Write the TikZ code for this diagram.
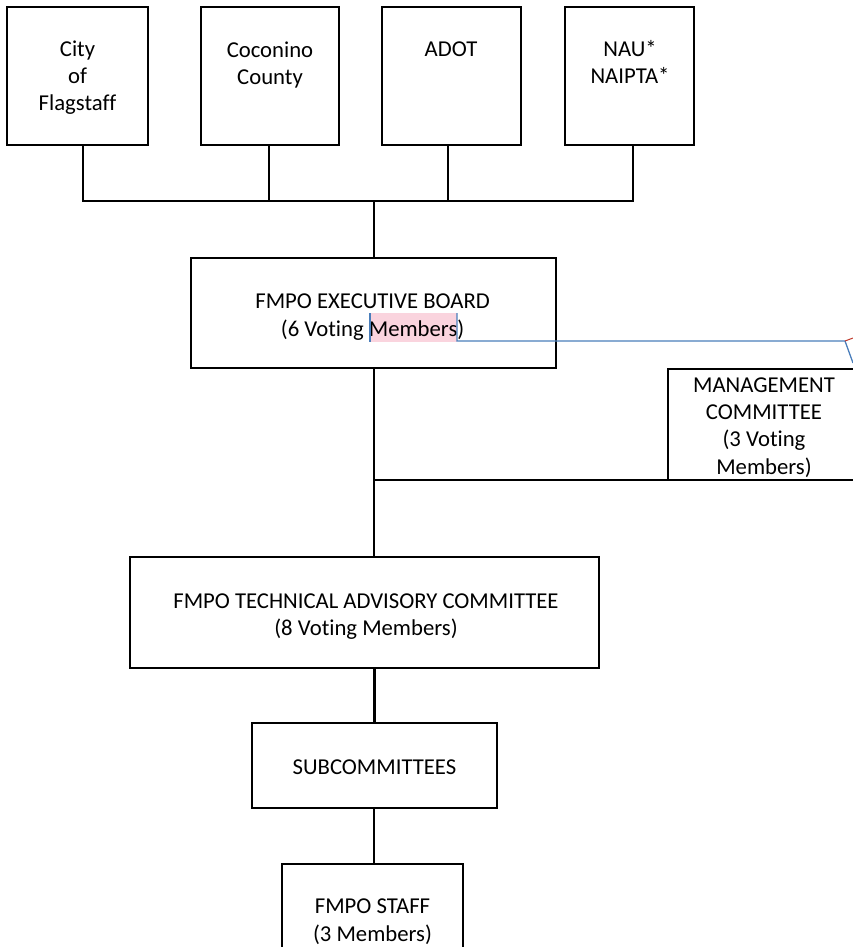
\documentclass[tikz,border=0pt]{standalone}
\usepackage{fontspec}
\setmainfont{Carlito}[Ligatures=NoCommon]
\definecolor{hlpink}{HTML}{FAD4DE}
\definecolor{annblue}{HTML}{4A7EBB}
\definecolor{annred}{HTML}{C0392B}
\begin{document}
\begin{tikzpicture}[x=1pt,y=-1pt,
  box/.style={draw=black, line width=2.9pt, rectangle, inner sep=0pt},
  txt/.style={font=\fontsize{22.7}{27.3}\selectfont, align=center, inner sep=0pt, anchor=base},
  conn/.style={draw=black, line width=2.9pt},
  annot/.style={draw=annblue, line width=1.3pt}]
\useasboundingbox (0,0) rectangle (853,947);
\fill[white] (0,0) rectangle (853,947);
\clip (0,0) rectangle (853,947);

% top boxes
\node[box, minimum width=141, minimum height=138] (city) at (77.5,76) {};
\node[box, minimum width=138, minimum height=138] (coco) at (270,76) {};
\node[box, minimum width=139, minimum height=138] (adot) at (451.5,76) {};
\node[box, minimum width=129, minimum height=138] (nau) at (629.5,76) {};
% anchor=base of a multi-line node is the baseline of its last line
\node[txt] (citytxt) at (77.5,111) {City\\of\\Flagstaff};
\node[txt] (cocotxt) at (270,84.5) {Coconino\\County};
\node[txt] (adottxt) at (451,57) {ADOT};
\node[txt] (nautxt) at (630,84) {NAU*\\NAIPTA*};

% executive board
\node[box, minimum width=365, minimum height=110] (exec) at (373.5,313) {};
\fill[hlpink] (370,313) rectangle (457,342);
\node[txt] (exectxt) at (372.6,336) {FMPO EXECUTIVE BOARD\\(6 Voting Members)};

% management committee
\node[box, minimum width=202, minimum height=111] (mgmt) at (769,424.5) {};
\node[txt] (mgmttxt) at (764,474) {MANAGEMENT\\COMMITTEE\\(3 Voting\\Members)};

% TAC
\node[box, minimum width=469, minimum height=111] (tac) at (364.5,612.5) {};
\node[txt] (tactxt) at (366,635.5) {FMPO TECHNICAL ADVISORY COMMITTEE\\(8 Voting Members)};

% subcommittees
\node[box, minimum width=245, minimum height=85] (sub) at (374.5,765.5) {};
\node[txt] (subtxt) at (374.5,774) {SUBCOMMITTEES};

% staff
\node[box, minimum width=181, minimum height=136] (staff) at (372.5,932) {};
\node[txt] (stafftxt) at (372.5,941) {FMPO STAFF\\(3 Members)};

% connectors
\coordinate (bus) at (374,201);
\coordinate (edge) at (860,480);
\path[conn] ([xshift=5.5]city.south) |- (bus);
\path[conn] ([xshift=3.5]nau.south) |- (bus);
\path[conn] ([xshift=-1]coco.south) -- ([xshift=-1]coco.south |- bus);
\path[conn] ([xshift=-3.5]adot.south) -- ([xshift=-3.5]adot.south |- bus);
\path[conn] (bus) -- (bus |- exec.north);
\path[conn] ([xshift=0.5]exec.south) -- ([xshift=0.5]exec.south |- tac.north);
\path[conn] ([xshift=0.5]exec.south |- edge) -- (edge);
\path[conn] (sub.north) -- (sub.north |- tac.south);
\path[conn] ([xshift=-0.5]sub.south) -- ([xshift=-0.5]sub.south |- staff.north);

% comment marker artefacts
\coordinate (hlA) at (370,313);
\coordinate (hlB) at (457,341);
\coordinate (mk) at (845,341);
\path[annot] (hlA) -- ++(0,29);
\path[annot] (457,313) -- (hlB) -- (mk) -- (853,363);
\draw[annred, line width=1pt] (mk) -- (853,338);
\end{tikzpicture}
\end{document}
